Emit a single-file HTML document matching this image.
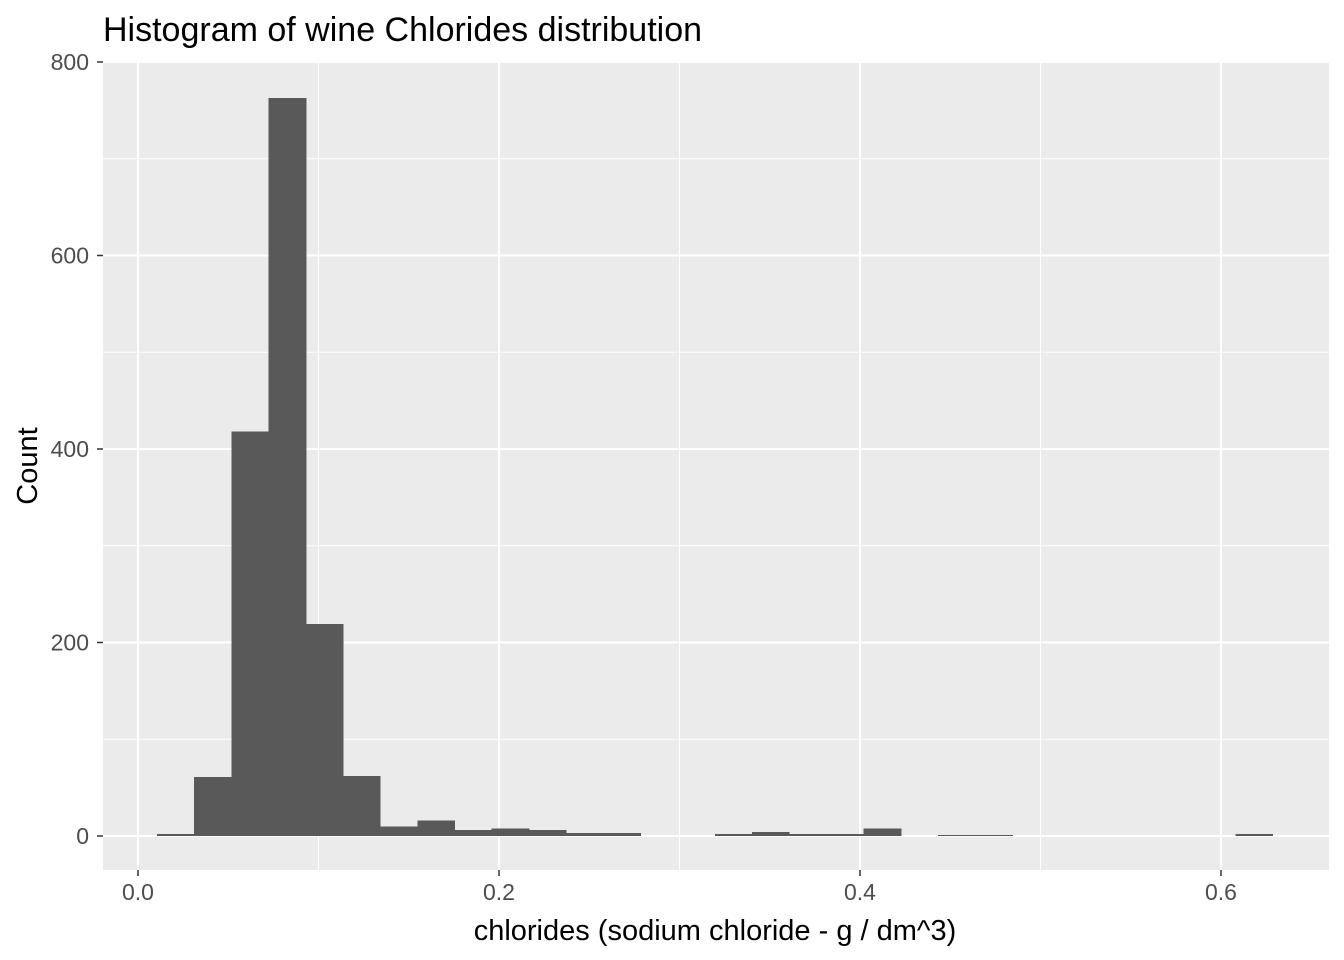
<!DOCTYPE html>
<html><head><meta charset="utf-8"><style>body{margin:0;background:#fff}svg{display:block;font-family:"Liberation Sans",sans-serif}</style></head>
<body>
<svg id="chart" width="1344" height="960">
<text x="103" y="41" font-size="34" fill="#000">Histogram of wine Chlorides distribution</text>
<rect x="103" y="62" width="1226" height="808" fill="#ebebeb"/>
<g id="grid"></g><g id="bars" shape-rendering="crispEdges"></g><g id="axes"></g>
<text x="715" y="940" font-size="29" text-anchor="middle" fill="#000">chlorides (sodium chloride - g / dm^3)</text>
<text transform="translate(37,466) rotate(-90)" font-size="29" text-anchor="middle" fill="#000">Count</text>
</svg>
<script>
const binStart = 0.01053;
const binWidth = 0.0206;
const counts = [2,61,418,763,219,62,10,16,6,8,6,3,3,0,0,2,4,2,2,8,0,1,1,0,0,0,0,0,0,2];
const xTicks = [0,0.2,0.4,0.6];
const xTickLabels = ["0.0","0.2","0.4","0.6"];
const xMinor = [0.1,0.3,0.5];
const yTicks = [0,200,400,600,800];
const yMinor = [100,300,500,700];
const X = v => 138 + v*1805;
const Y = v => 836 - v*0.9675;
const NS = "http://www.w3.org/2000/svg";
function mk(tag, attrs, parent){const e=document.createElementNS(NS,tag);for(const k in attrs)e.setAttribute(k,attrs[k]);document.getElementById(parent).appendChild(e);return e;}
xMinor.forEach(v=>{const l=mk('line',{x1:X(v),x2:X(v),y1:62,y2:870,stroke:'#fff','stroke-width':1},'grid');

});
yMinor.forEach(v=>{const l=mk('line',{x1:103,x2:1329,y1:Y(v),y2:Y(v),stroke:'#fff','stroke-width':1},'grid');

});
xTicks.forEach((v,i)=>{const l=mk('line',{x1:X(v),x2:X(v),y1:62,y2:870,stroke:'#fff','stroke-width':2},'grid');


const t=mk('line',{x1:X(v),x2:X(v),y1:870,y2:876,stroke:'#333','stroke-width':1.5},'axes');


const tx=mk('text',{x:X(v),y:900,'font-size':23,'text-anchor':'middle',fill:'#4d4d4d'},'axes');tx.textContent=xTickLabels[i];

});
yTicks.forEach(v=>{const l=mk('line',{x1:103,x2:1329,y1:Y(v),y2:Y(v),stroke:'#fff','stroke-width':2},'grid');


const t=mk('line',{x1:97,x2:103,y1:Y(v),y2:Y(v),stroke:'#333','stroke-width':1.5},'axes');


const tx=mk('text',{x:89,y:Y(v)+8,'font-size':23,'text-anchor':'end',fill:'#4d4d4d'},'axes');tx.textContent=v;

});
counts.forEach((c,i)=>{if(c<=0)return;const x0=X(binStart+i*binWidth),x1=X(binStart+(i+1)*binWidth);
const r=mk('rect',{x:x0,y:Y(c),width:x1-x0+0.6,height:Y(0)-Y(c),fill:'#595959'},'bars');

});
</script>
</body></html>
